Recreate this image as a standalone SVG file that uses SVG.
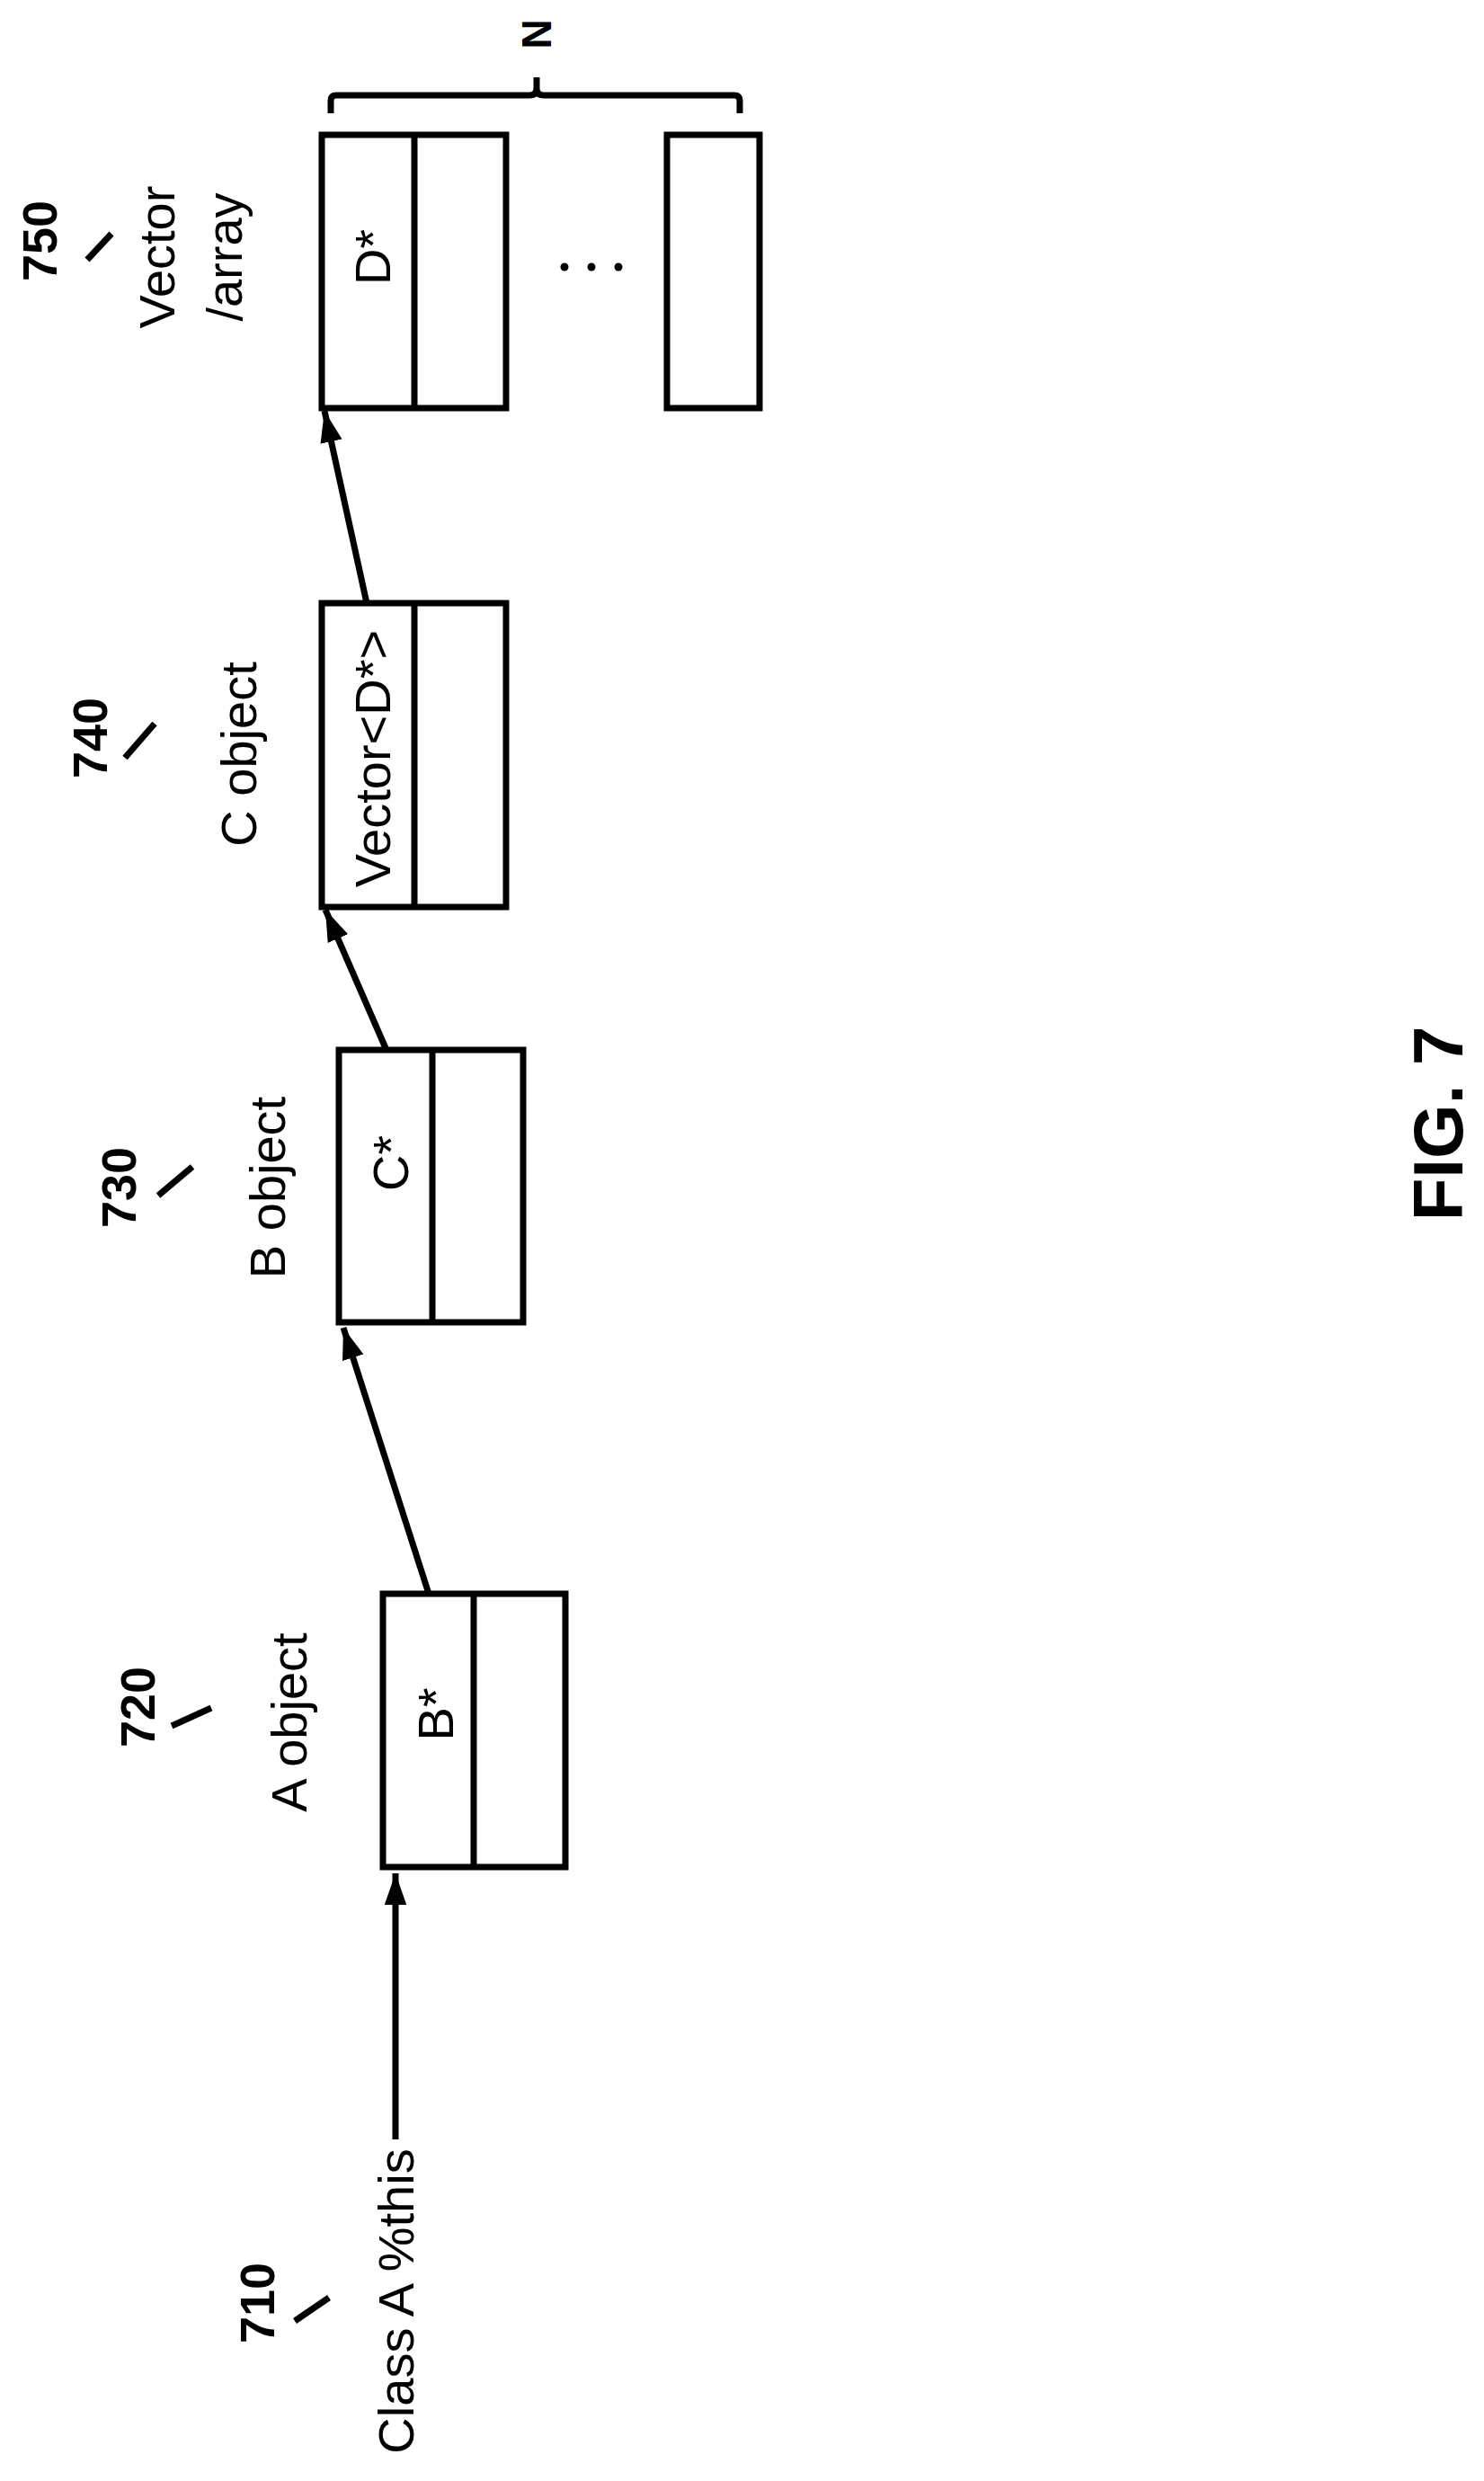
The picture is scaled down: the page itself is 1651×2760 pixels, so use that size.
<svg xmlns="http://www.w3.org/2000/svg" width="1651" height="2760" viewBox="0 0 1651 2760">
<style>
text{font-family:"Liberation Sans",Arial,sans-serif;font-size:56px;fill:#000;text-anchor:middle;dominant-baseline:central}
.num{font-weight:bold;font-size:54px}
.fig{font-weight:bold;font-size:78px}
.box{fill:#fff;stroke:#000;stroke-width:7}
.ln{stroke:#000;stroke-width:7;fill:none}
.sl{stroke:#000;stroke-width:7}
</style>
<defs>
<marker id="ah" viewBox="0 0 10 10" refX="10" refY="5" markerWidth="5" markerHeight="5" orient="auto" markerUnits="strokeWidth"><path d="M0,1.5 L10,5 L0,8.5 Z" fill="#000"/></marker>
</defs>
<g id="connectors">
<line class="ln" x1="440" y1="2380" x2="440" y2="2084" marker-end="url(#ah)"/>
<line class="ln" x1="477" y1="1773" x2="382" y2="1477" marker-end="url(#ah)"/>
<line class="ln" x1="429" y1="1166" x2="362" y2="1012" marker-end="url(#ah)"/>
<line class="ln" x1="408" y1="671" x2="361" y2="457" marker-end="url(#ah)"/>
</g>
<g id="n710">
<text class="num" transform="translate(286,2562) rotate(-90)">710</text>
<line class="sl" x1="328" y1="2582" x2="366" y2="2556"/>
<text transform="translate(440,2560) rotate(-90)">Class A %this</text>
</g>
<g id="n720">
<text class="num" transform="translate(153,1899) rotate(-90)">720</text>
<line class="sl" x1="191" y1="1920" x2="235" y2="1900"/>
<text transform="translate(321,1916) rotate(-90)">A object</text>
<rect class="box" x="426" y="1773" width="203" height="304"/>
<line class="ln" x1="527" y1="1773" x2="527" y2="2077"/>
<text transform="translate(484,1907) rotate(-90)">B*</text>
</g>
<g id="n730">
<text class="num" transform="translate(132,1321) rotate(-90)">730</text>
<line class="sl" x1="176" y1="1330" x2="214" y2="1298"/>
<text transform="translate(297,1321) rotate(-90)">B object</text>
<rect class="box" x="377" y="1168" width="205" height="303"/>
<line class="ln" x1="481" y1="1168" x2="481" y2="1471"/>
<text transform="translate(434,1294) rotate(-90)">C*</text>
</g>
<g id="n740">
<text class="num" transform="translate(100,821) rotate(-90)">740</text>
<line class="sl" x1="139" y1="843" x2="172" y2="805"/>
<text transform="translate(265,839) rotate(-90)">C object</text>
<rect class="box" x="358" y="671" width="205" height="338"/>
<line class="ln" x1="461" y1="671" x2="461" y2="1009"/>
<text transform="translate(414,844) rotate(-90)">Vector&lt;D*&gt;</text>
</g>
<g id="n750">
<text class="num" transform="translate(44,268) rotate(-90)">750</text>
<line class="sl" x1="97" y1="289" x2="124" y2="260"/>
<text transform="translate(174,286) rotate(-90)">Vector</text>
<text transform="translate(249,286) rotate(-90)">/array</text>
<rect class="box" x="358" y="150" width="205" height="304"/>
<line class="ln" x1="461" y1="150" x2="461" y2="454"/>
<text transform="translate(414,286) rotate(-90)">D*</text>
<rect class="box" x="742" y="150" width="103" height="304"/>
<circle cx="628" cy="297" r="4.5"/><circle cx="658" cy="297" r="4.5"/><circle cx="688" cy="297" r="4.5"/>
<path class="ln" d="M368,126 V112 Q368,106 374,106 H589 Q597,106 597,98 V86 M597,98 Q597,106 605,106 H817 Q823,106 823,112 V126" stroke-width="6"/>
<text class="num" transform="translate(597,38) rotate(-90)" style="font-weight:bold;font-size:46px">N</text>
</g>
<text class="fig" transform="translate(1600,1250) rotate(-90)">FIG. 7</text>
</svg>
